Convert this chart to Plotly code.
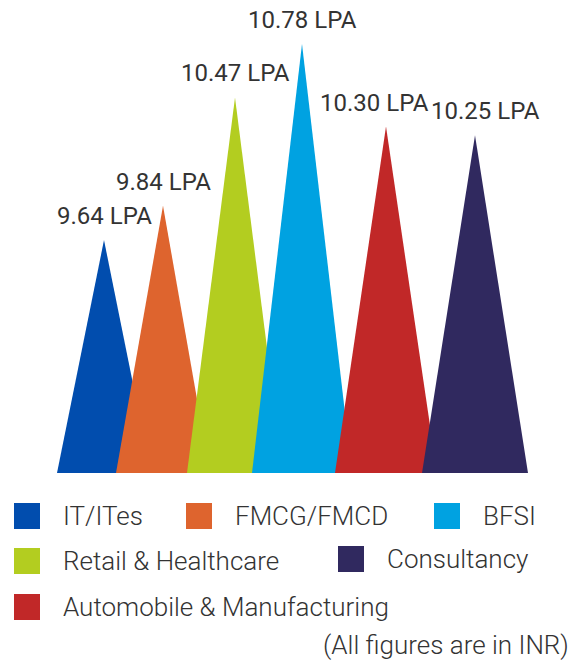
import plotly.graph_objects as go

# Average salary by sector (lakhs per annum)
sectors = ["IT/ITes", "FMCG/FMCD", "Retail & Healthcare", "BFSI",
           "Automobile & Manufacturing", "Consultancy"]
salaries = [9.64, 9.84, 10.47, 10.78, 10.30, 10.25]
value_labels = [f"{v:.2f} LPA" for v in salaries]
colors = ["#014DAE", "#DE642E", "#B3CD20", "#00A2E1", "#C12828", "#30295F"]

# Spike geometry (pixel units along x)
apex_x = [104, 163, 235, 302, 386, 475]
half_w = [47, 47, 48, 50, 51, 53]
label_dx = [0, 0, 0, 0, -12, 10]

W, H = 583, 663
BASELINE_PX = 473
Y_BASE = 8.285          # value at the baseline
PX_PER_UNIT = 171.9
Y_TOP = Y_BASE + BASELINE_PX / PX_PER_UNIT

FONT = "Roboto"
TEXT = "#333333"

fig = go.Figure()

# Spikes drawn left to right so each overlaps the previous one
for name, v, c, w, col in zip(sectors, salaries, apex_x, half_w, colors):
    fig.add_trace(go.Scatter(
        x=[c - w, c, c + w, c - w],
        y=[Y_BASE, v, Y_BASE, Y_BASE],
        mode="lines", fill="toself", fillcolor=col,
        line=dict(width=0, color=col), name=name,
        hoverinfo="name", showlegend=False,
    ))

annotations = []
for v, c, dx, txt in zip(salaries, apex_x, label_dx, value_labels):
    annotations.append(dict(
        x=c, y=v, xref="x", yref="y", text=txt, showarrow=False,
        xanchor="center", yanchor="bottom", xshift=dx, yshift=8,
        font=dict(family=FONT, size=24, color=TEXT),
    ))

# Legend: square swatches and names, laid out in pixel space
legend_items = [
    ("IT/ITes", 14, 516),
    ("FMCG/FMCD", 186, 516),
    ("BFSI", 434, 516),
    ("Retail & Healthcare", 14, 561),
    ("Consultancy", 338, 559),
    ("Automobile & Manufacturing", 14, 607),
]
color_of = dict(zip(sectors, colors))
shapes = []
SW = 26
for name, x0, yc in legend_items:
    shapes.append(dict(
        type="rect", xref="x2", yref="y2",
        x0=x0, x1=x0 + SW, y0=yc - SW / 2, y1=yc + SW / 2,
        fillcolor=color_of[name], line=dict(width=0),
    ))
    annotations.append(dict(
        x=x0 + 47, y=yc, xref="x2", yref="y2", text=name, showarrow=False,
        xanchor="left", yanchor="middle",
        font=dict(family=FONT, size=26, color=TEXT, weight=300),
    ))

annotations.append(dict(
    x=571, y=645, xref="x2", yref="y2", text="(All figures are in INR)",
    showarrow=False, xanchor="right", yanchor="middle",
    font=dict(family=FONT, size=26, color=TEXT, weight=300),
))

fig.update_layout(
    width=W, height=H,
    margin=dict(l=0, r=0, t=0, b=0),
    paper_bgcolor="white", plot_bgcolor="rgba(0,0,0,0)",
    xaxis=dict(range=[0, W], visible=False, fixedrange=True, domain=[0, 1]),
    yaxis=dict(range=[Y_BASE, Y_TOP], visible=False, fixedrange=True,
               domain=[(H - BASELINE_PX) / H, 1]),
    xaxis2=dict(range=[0, W], visible=False, fixedrange=True,
                domain=[0, 1], anchor="y2"),
    yaxis2=dict(range=[H, 0], visible=False, fixedrange=True,
                domain=[0, 1], anchor="x2"),
    shapes=shapes,
    annotations=annotations,
    showlegend=False,
)

# invisible trace so the second axis pair is created
fig.add_trace(go.Scatter(x=[0], y=[0], xaxis="x2", yaxis="y2",
                         mode="markers", marker=dict(opacity=0),
                         hoverinfo="skip", showlegend=False))

fig.write_html("out.html")
